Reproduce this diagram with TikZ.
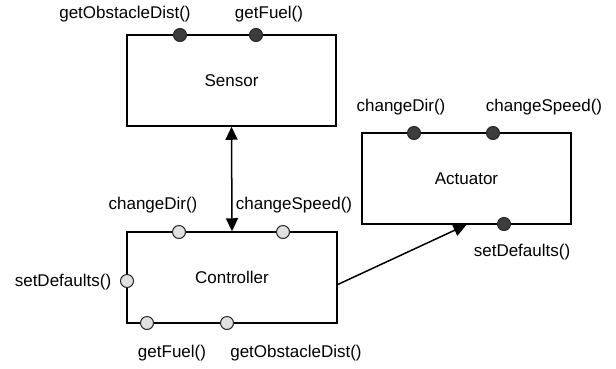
\documentclass[tikz,border=0pt]{standalone}
\usepackage{fontspec}
\setmainfont{Liberation Sans}
\usetikzlibrary{arrows.meta}
\begin{document}
\begin{tikzpicture}[x=1pt,y=-1pt,
  comp/.style={draw, line width=1.5pt, rectangle, minimum width=209pt, minimum height=91pt, inner sep=0pt, font=\fontsize{17}{20}\selectfont},
  portout/.style={circle, draw=black!85, line width=1pt, fill=black!76, minimum size=13pt, inner sep=0pt},
  portin/.style={circle, draw=black!85, line width=1pt, fill=black!12, minimum size=13pt, inner sep=0pt},
  lbl/.style={font=\fontsize{17}{20}\selectfont, inner sep=0pt},
  link/.style={line width=1.5pt, -{Triangle[length=13pt,width=12pt]}}
]
\useasboundingbox (0,0) rectangle (616,368);

% components
\node[comp] (sensor) at (231.5,80.5) {Sensor};
\node[comp, minimum width=210pt] (controller) at (232,277.5) {Controller};
\node[comp] (actuator) at (466.5,178.5) {Actuator};

% connectors
\draw[link, {Triangle[length=13pt,width=12pt]}-{Triangle[length=13pt,width=12pt]}] (sensor.south) -- (controller.north);
\draw[link] ([yshift=-7pt]controller.east) -- (actuator.south);

% sensor ports
\node[portout] (s1) at (180,35) {};
\node[portout] (s2) at (256,35) {};
\node[lbl] (s1l) at (125,14) {getObstacleDist()};
\node[lbl] (s2l) at (269,14) {getFuel()};

% controller ports
\node[portin] (c1) at (179,232) {};
\node[portin] (c2) at (283,232) {};
\node[portin] (c3) at (127,281) {};
\node[portin] (c4) at (147,323) {};
\node[portin] (c5) at (227,323) {};
\node[lbl] (c1l) at (153,205) {changeDir()};
\node[lbl] (c2l) at (294,205) {changeSpeed()};
\node[lbl] (c3l) at (63,282) {setDefaults()};
\node[lbl] (c4l) at (172,353) {getFuel()};
\node[lbl] (c5l) at (296,353) {getObstacleDist()};

% actuator ports
\node[portout] (a1) at (414,133) {};
\node[portout] (a2) at (493,133) {};
\node[portout] (a3) at (504,224) {};
\node[lbl] (a1l) at (401,107) {changeDir()};
\node[lbl] (a2l) at (544,107) {changeSpeed()};
\node[lbl] (a3l) at (522,252) {setDefaults()};
\end{tikzpicture}
\end{document}
